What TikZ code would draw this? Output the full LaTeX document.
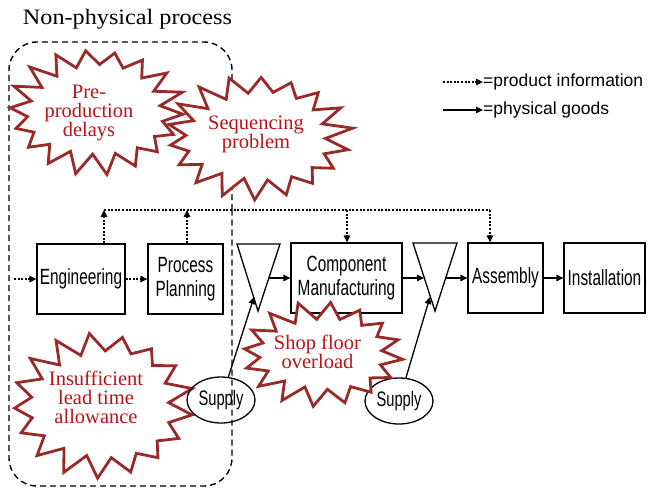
\documentclass[tikz,border=0pt]{standalone}
\usepackage{fontspec}
\setmainfont{Liberation Serif}
\setsansfont{Liberation Sans}
\newfontfamily\narrowsans{Liberation Sans}[FakeStretch=0.7]
\newfontfamily\widerserif{Liberation Serif}[FakeStretch=1.1]
\usetikzlibrary{arrows.meta,shapes.geometric}
\definecolor{burstline}{RGB}{152,42,42}
\definecolor{bursttext}{RGB}{185,20,25}

\tikzset{
  box/.style={draw, line width=1.3pt, minimum height=70pt, inner sep=1pt, align=center,
    font=\narrowsans\fontsize{22}{24}\selectfont},
  goods/.style={line width=1.3pt, -{Triangle[length=7pt,width=6.5pt]}},
  info/.style={line width=1.4pt, dash pattern=on 2pt off 1.6pt},
  infoarrow/.style={info, -{Triangle[length=7pt,width=6.5pt]}},
  supply/.style={draw, ellipse, line width=1.3pt, minimum width=68pt, minimum height=46pt,
    inner sep=0pt, font=\narrowsans\fontsize{21}{22}\selectfont},
  burst/.style={draw=burstline, line width=2.8pt, line join=miter},
  bursttxt/.style={text=bursttext, align=center, inner sep=0pt, font=\fontsize{20.5}{19}\selectfont},
  frame/.style={dash pattern=on 6pt off 4pt, line width=1.4pt, rounded corners=28pt},
  legendtxt/.style={anchor=west, inner sep=0pt, font=\sffamily\fontsize{17.5}{20}\selectfont},
}

% spiky outline: #1 options, #2 cx, #3 cy, #4/#5 tip radii, #6/#7 notch radii, #8 spikes, #9 phase
\newcommand\burstshape[9]{%
  \pgfmathtruncatemacro\burstlast{2*#8-1}%
  \path[#1] plot[samples at={0,...,\burstlast}, variable=\q]
    ({#2+(#4-(#4-#6)*mod(\q,2))*(1+0.04*sin(\q*151))*cos(\q*180/#8+#9)},
     {#3+(#5-(#5-#7)*mod(\q,2))*(1+0.04*sin(\q*151))*sin(\q*180/#8+#9)}) -- cycle;
}

\begin{document}
\begin{tikzpicture}[x=1pt,y=-1pt]
\useasboundingbox (0,0) rectangle (650,488);

% heading
\node[font=\widerserif\fontsize{22}{26}\selectfont, inner sep=0pt] (title) at (127.5,19) {Non-physical process};

% process chain
\node[box, minimum width=88pt] (eng) at (81,279) {Engineering};
\node[box, minimum width=75pt] (pp) at (185.5,279) {Process\\Planning};
\node[box, minimum width=111pt] (cm) at (346.5,278) {Component\\Manufacturing};
\node[box, minimum width=75pt] (asm) at (505.5,278) {Assembly};
\node[box, minimum width=81pt] (inst) at (604.5,278) {Installation};

% buffer triangles
\coordinate (t1l) at (237,244); \coordinate (t1r) at (280,244); \coordinate (t1b) at (258,311);
\coordinate (t2l) at (413,243); \coordinate (t2r) at (457,243); \coordinate (t2b) at (435,311);
\draw[line width=1.3pt, line join=miter] (t1l) -- (t1r) -- (t1b) -- cycle;
\draw[line width=1.3pt, line join=miter] (t2l) -- (t2r) -- (t2b) -- cycle;
\coordinate (t1o) at (269,278);
\coordinate (t2i) at (424,278);
\coordinate (t2o) at (446,278);
\coordinate (t1s) at (254,297);
\coordinate (t2s) at (430,297);

% physical flow
\draw[goods] (t1o) -- (cm);
\draw[goods] (cm) -- (t2i);
\draw[goods] (t2o) -- (asm);
\draw[goods] (asm) -- (inst);

% information flow
\coordinate (in0) at (14,279);
\draw[infoarrow] (in0) -- (eng);
\draw[infoarrow] (eng) -- (pp);
\coordinate (iL) at (104,210);
\coordinate (iP) at (187,210);
\coordinate (iC) at (347,210);
\coordinate (iA) at (490,210);
\draw[info] (iL) -- (iA);
\draw[infoarrow] (eng.north -| iL) -- (iL);
\draw[infoarrow] (pp.north -| iP) -- (iP);
\draw[infoarrow] (iC) -- (cm.north -| iC);
\draw[infoarrow] (iA) -- (asm.north -| iA);

% lower-left burst
\burstshape{fill=white}{102}{405}{91}{71}{69}{54}{17}{8}
\burstshape{burst}{102}{405}{91}{71}{69}{54}{17}{8}
\node[bursttxt] (lead) at (96,397) {Insufficient\\lead time\\allowance};

% upper-left burst (fill only, outline later)
\burstshape{fill=white}{96}{111}{87}{62}{67}{45}{18}{3}

% dashed region
\draw[frame] (232,210) -- (232,42) -- (9,42) -- (9,486) -- (232,486) -- (232,210);

% supplies
\node[supply] (sup1) at (221,400) {Supply};
\node[supply] (sup2) at (399,401) {Supply};

% upper bursts
\burstshape{fill=white}{258}{137}{92}{61}{70}{44}{18}{12}
\burstshape{burst}{96}{111}{87}{62}{67}{45}{18}{3}
\burstshape{burst}{258}{137}{92}{61}{70}{44}{18}{12}
\node[bursttxt] (delay) at (89,113) {Pre-\\production\\delays};
\node[bursttxt] (seq) at (256,134.5) {Sequencing\\problem};

% shop floor burst
\burstshape{fill=white}{322}{354}{81}{51}{60}{36}{16}{6}
\burstshape{burst}{322}{354}{81}{51}{60}{36}{16}{6}
\node[bursttxt] (shop) at (317.5,351.5) {Shop floor\\overload};

% supply deliveries
\draw[goods] (sup1) -- (t1s);
\draw[goods] (sup2) -- (t2s);

% key
\coordinate (la1) at (443,82); \coordinate (la2) at (483,82);
\coordinate (lb1) at (443,110); \coordinate (lb2) at (483,110);
\draw[infoarrow] (la1) -- (la2);
\draw[goods] (lb1) -- (lb2);
\node[legendtxt] (lta) at (la2) {=product information};
\node[legendtxt] (ltb) at (lb2) {=physical goods};
\end{tikzpicture}
\end{document}
